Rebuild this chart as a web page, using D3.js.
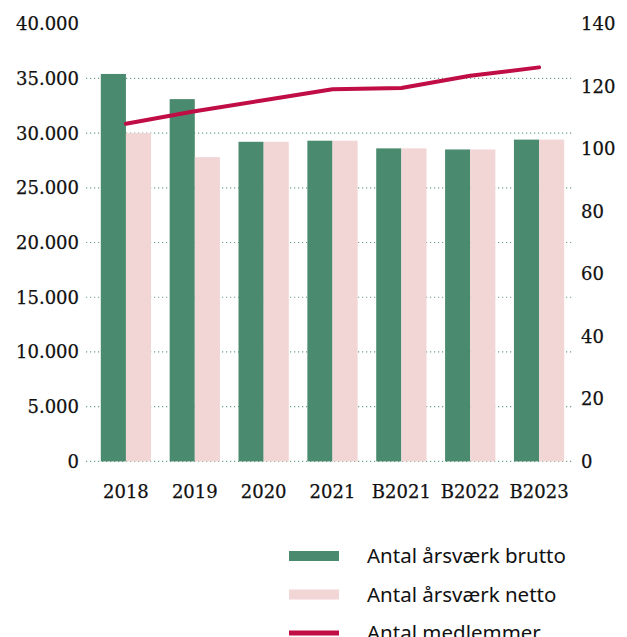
<!DOCTYPE html>
<html>
<head>
<meta charset="utf-8">
<script src="https://cdn.jsdelivr.net/npm/d3@7"></script>
<style>
  body { margin: 0; background: #fff; }
  .tick-label { font-family: "DejaVu Serif", serif; font-size: 18px; fill: #111; stroke: #111; stroke-width: 0.25px; }
  .legend-label { font-family: "Noto Sans", sans-serif; font-size: 20.5px; fill: #111; }
</style>
</head>
<body>
<svg id="chart"></svg>
<script>
// data
const categories = ['2018', '2019', '2020', '2021', 'B2021', 'B2022', 'B2023'];
const brutto = [35400, 33100, 29200, 29300, 28600, 28500, 29400];
const netto = [30000, 27800, 29200, 29300, 28600, 28500, 29400];
const medlemmer = [108, 112, 115.5, 119, 119.4, 123.3, 126];
const leftTicks = [0, 5000, 10000, 15000, 20000, 25000, 30000, 35000, 40000];
const rightTicks = [0, 20, 40, 60, 80, 100, 120, 140];
const legendItems = ['Antal årsværk brutto', 'Antal årsværk netto', 'Antal medlemmer'];

const width = 627, height = 637;
const colors = { brutto: '#4a8a6e', netto: '#f2d5d5', line: '#c00d45', grid: '#4a8a6e' };

const svg = d3.select('#chart').attr('width', width).attr('height', height);

const x = d3.scaleBand().domain(categories).range([91.5, 573.5]).paddingInner(0.27).paddingOuter(0.135);
const yLeft = d3.scaleLinear().domain([0, 40000]).range([461.4, 23.6]);
const yRight = d3.scaleLinear().domain([0, 140]).range([461.4, 23.6]);

const fmt = d3.format(',');
const fmtDa = v => fmt(v).replace(/,/g, '.');

// grid lines (no line at top tick)
svg.append('g')
  .selectAll('line')
  .data(leftTicks.filter(d => d < 40000))
  .enter().append('line')
  .attr('x1', 86).attr('x2', 574)
  .attr('y1', d => yLeft(d)).attr('y2', d => yLeft(d))
  .attr('stroke', colors.grid)
  .attr('stroke-width', 1.2)
  .attr('stroke-dasharray', '1.2,2.8')
  .attr('opacity', 0.8);

// bars
const half = x.bandwidth() / 2;
const groups = svg.append('g').selectAll('g')
  .data(categories)
  .enter().append('g');

groups.append('rect')
  .attr('x', d => x(d))
  .attr('width', half)
  .attr('y', (d, i) => yLeft(brutto[i]))
  .attr('height', (d, i) => yLeft(0) - yLeft(brutto[i]))
  .attr('fill', colors.brutto);

groups.append('rect')
  .attr('x', d => x(d) + half)
  .attr('width', half)
  .attr('y', (d, i) => yLeft(netto[i]))
  .attr('height', (d, i) => yLeft(0) - yLeft(netto[i]))
  .attr('fill', colors.netto);

// member line
const line = d3.line()
  .x((d, i) => x(categories[i]) + half)
  .y(d => yRight(d));

svg.append('path')
  .datum(medlemmer)
  .attr('d', line)
  .attr('fill', 'none')
  .attr('stroke', colors.line)
  .attr('stroke-width', 4)
  .attr('stroke-linecap', 'round')
  .attr('stroke-linejoin', 'round');

// left axis labels
svg.append('g').selectAll('text')
  .data(leftTicks)
  .enter().append('text')
  .attr('class', 'tick-label')
  .attr('x', 79)
  .attr('y', d => yLeft(d))
  .attr('dy', '0.36em')
  .attr('text-anchor', 'end')
  .text(d => fmtDa(d));

// right axis labels
svg.append('g').selectAll('text')
  .data(rightTicks)
  .enter().append('text')
  .attr('class', 'tick-label')
  .attr('x', 581)
  .attr('y', d => yRight(d))
  .attr('dy', '0.36em')
  .text(d => d);

// x labels
svg.append('g').selectAll('text')
  .data(categories)
  .enter().append('text')
  .attr('class', 'tick-label')
  .attr('x', d => x(d) + half)
  .attr('y', 492)
  .attr('dy', '0.36em')
  .attr('text-anchor', 'middle')
  .text(d => d);

// legend
const legend = svg.append('g').selectAll('g')
  .data(legendItems)
  .enter().append('g')
  .attr('transform', (d, i) => `translate(0, ${556 + i * 38.5})`);

legend.append('rect')
  .attr('x', 289)
  .attr('y', (d, i) => i === 2 ? -2.5 : -5)
  .attr('width', 50)
  .attr('height', (d, i) => i === 2 ? 5 : 10)
  .attr('fill', (d, i) => [colors.brutto, colors.netto, colors.line][i]);

legend.append('text')
  .attr('class', 'legend-label')
  .attr('x', 367)
  .attr('y', 0)
  .attr('dy', '0.36em')
  .text(d => d);
</script>
</body>
</html>
